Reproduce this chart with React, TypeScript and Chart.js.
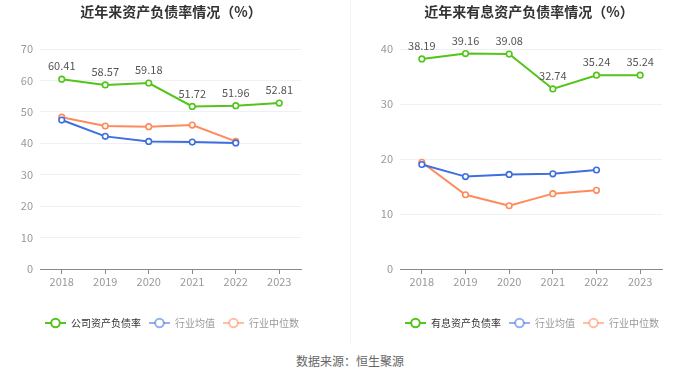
import React, { useEffect, useRef } from 'react';
import { Chart, registerables } from 'chart.js';

Chart.register(...registerables);

const FONT = "'Noto Sans CJK SC', 'Noto Sans', sans-serif";

const years = ['2018', '2019', '2020', '2021', '2022', '2023'];

const leftTitle = '近年来资产负债率情况（%）';
const leftLabels = ['公司资产负债率', '行业均值', '行业中位数'];
const debtRatio = [60.41, 58.57, 59.18, 51.72, 51.96, 52.81];
const debtMean = [47.4, 42.2, 40.6, 40.4, 40.1, null];
const debtMedian = [48.3, 45.5, 45.3, 45.8, 40.6, null];
const leftTicksMax = 70;

const rightTitle = '近年来有息资产负债率情况（%）';
const rightLabels = ['有息资产负债率', '行业均值', '行业中位数'];
const ibRatio = [38.19, 39.16, 39.08, 32.74, 35.24, 35.24];
const ibMean = [19.0, 16.8, 17.2, 17.3, 18.0, null];
const ibMedian = [19.4, 13.5, 11.5, 13.7, 14.3, null];
const rightTicksMax = 40;

const COLORS = ['#52c41a', '#3d6fe0', '#ff8a5b'];

function makeMarker(color: string, alpha: number) {
  const c = document.createElement('canvas');
  c.width = 21;
  c.height = 12;
  const ctx = c.getContext('2d')!;
  ctx.globalAlpha = alpha;
  ctx.strokeStyle = color;
  ctx.lineWidth = 2;
  ctx.beginPath();
  ctx.moveTo(0, 6);
  ctx.lineTo(21, 6);
  ctx.stroke();
  ctx.beginPath();
  ctx.arc(10.5, 6, 4.3, 0, Math.PI * 2);
  ctx.fillStyle = '#fff';
  ctx.globalAlpha = 1;
  ctx.fill();
  ctx.globalAlpha = alpha;
  ctx.stroke();
  return c;
}

function makeConfig(opts: {
  title: string;
  titleX: number;
  labels: string[];
  series: (number | null)[][];
  max: number;
  padLeft: number;
  padRight: number;
  yWidth: number;
  rightWidth: number;
}): any {
  const markers = [makeMarker(COLORS[0], 1), makeMarker(COLORS[1], 0.55), makeMarker(COLORS[2], 0.55)];
  const titlePlugin = {
    id: 'customTitle',
    afterDraw(chart: any) {
      const ctx = chart.ctx;
      ctx.save();
      ctx.font = `bold 14px ${FONT}`;
      ctx.fillStyle = '#333';
      ctx.textAlign = 'center';
      ctx.textBaseline = 'middle';
      ctx.fillText(opts.title, opts.titleX, 12);
      ctx.restore();
    },
  };
  const valuePlugin = {
    id: 'valueLabels',
    afterDatasetsDraw(chart: any) {
      const ctx = chart.ctx;
      const meta = chart.getDatasetMeta(0);
      const data = chart.data.datasets[0].data;
      ctx.save();
      ctx.font = `11px ${FONT}`;
      ctx.fillStyle = '#555';
      ctx.textAlign = 'center';
      ctx.textBaseline = 'middle';
      meta.data.forEach((pt: any, i: number) => {
        const v = data[i];
        if (v == null) return;
        ctx.fillText(Number(v).toFixed(2), pt.x, pt.y - 13);
      });
      ctx.restore();
    },
  };
  return {
    type: 'line',
    data: {
      labels: years,
      datasets: opts.series.map((d, i) => ({
        label: opts.labels[i],
        data: d,
        borderColor: COLORS[i],
        backgroundColor: '#fff',
        pointBackgroundColor: '#fff',
        pointBorderColor: COLORS[i],
        pointRadius: 2.8,
        pointBorderWidth: 1.6,
        borderWidth: 2,
        tension: 0,
        fill: false,
      })),
    },
    options: {
      responsive: false,
      animation: false,
      layout: { padding: { top: 49, bottom: 7, left: opts.padLeft, right: opts.padRight } },
      plugins: {
        title: { display: false },
        tooltip: { enabled: false },
        legend: {
          display: true,
          position: 'bottom',
          onClick: () => {},
          labels: {
            usePointStyle: true,
            pointStyleWidth: 21,
            padding: 8,
            font: { size: 10, family: FONT },
            generateLabels: (chart: any) =>
              chart.data.datasets.map((ds: any, i: number) => ({
                text: ds.label,
                pointStyle: markers[i],
                fontColor: i === 0 ? '#333' : '#999',
                fillStyle: 'transparent',
                strokeStyle: 'transparent',
                lineWidth: 0,
                hidden: false,
                datasetIndex: i,
              })),
          },
        },
      },
      scales: {
        x: {
          offset: true,
          grid: {
            display: true,
            drawOnChartArea: false,
            drawTicks: true,
            tickLength: 5,
            offset: false,
            color: '#8a8a8a',
          },
          border: { display: true, color: '#8a8a8a' },
          ticks: { padding: 1, color: '#999', font: { size: 11, family: FONT }, maxRotation: 0 },
          afterFit: (s: any) => {
            s.height = 41;
          },
        },
        y: {
          min: 0,
          max: opts.max,
          grid: { color: '#eef0f5', drawTicks: false },
          border: { display: false },
          ticks: { stepSize: 10, padding: 7, color: '#999', font: { size: 11, family: FONT } },
          afterFit: (s: any) => {
            s.width = opts.yWidth;
          },
        },
        yDummy: {
          position: 'right',
          display: true,
          grid: { display: false, drawTicks: false },
          border: { display: false },
          ticks: { display: false },
          afterFit: (s: any) => {
            s.width = opts.rightWidth;
          },
        },
      },
    },
    plugins: [titlePlugin, valuePlugin],
  };
}

export default function App() {
  const leftRef = useRef<HTMLCanvasElement>(null);
  const rightRef = useRef<HTMLCanvasElement>(null);

  useEffect(() => {
    Chart.defaults.font.family = FONT;
    const a = new Chart(
      leftRef.current!,
      makeConfig({
        title: leftTitle,
        titleX: 171,
        labels: leftLabels,
        series: [debtRatio, debtMean, debtMedian],
        max: leftTicksMax,
        padLeft: 0,
        padRight: 6,
        yWidth: 40,
        rightWidth: 43,
      })
    );
    const b = new Chart(
      rightRef.current!,
      makeConfig({
        title: rightTitle,
        titleX: 179,
        labels: rightLabels,
        series: [ibRatio, ibMean, ibMedian],
        max: rightTicksMax,
        padLeft: 14,
        padRight: 0,
        yWidth: 36,
        rightWidth: 38,
      })
    );
    return () => {
      a.destroy();
      b.destroy();
    };
  }, []);

  return (
    <div
      style={{
        position: 'absolute',
        left: 0,
        top: 0,
        width: 700,
        height: 378,
        background: '#fff',
        fontFamily: FONT,
        overflow: 'hidden',
      }}
    >
      <div style={{ position: 'absolute', left: 0, top: 0, width: 350, height: 345 }}>
        <canvas ref={leftRef} width={350} height={345} />
      </div>
      <div style={{ position: 'absolute', left: 350, top: 0, width: 1, height: 345, background: '#f4f4f4' }} />
      <div style={{ position: 'absolute', left: 350, top: 0, width: 350, height: 345 }}>
        <canvas ref={rightRef} width={350} height={345} />
      </div>
      <div
        style={{
          position: 'absolute',
          left: 0,
          top: 352,
          width: 700,
          textAlign: 'center',
          fontSize: 12,
          lineHeight: '18px',
          color: '#666',
        }}
      >
        数据来源：恒生聚源
      </div>
    </div>
  );
}
